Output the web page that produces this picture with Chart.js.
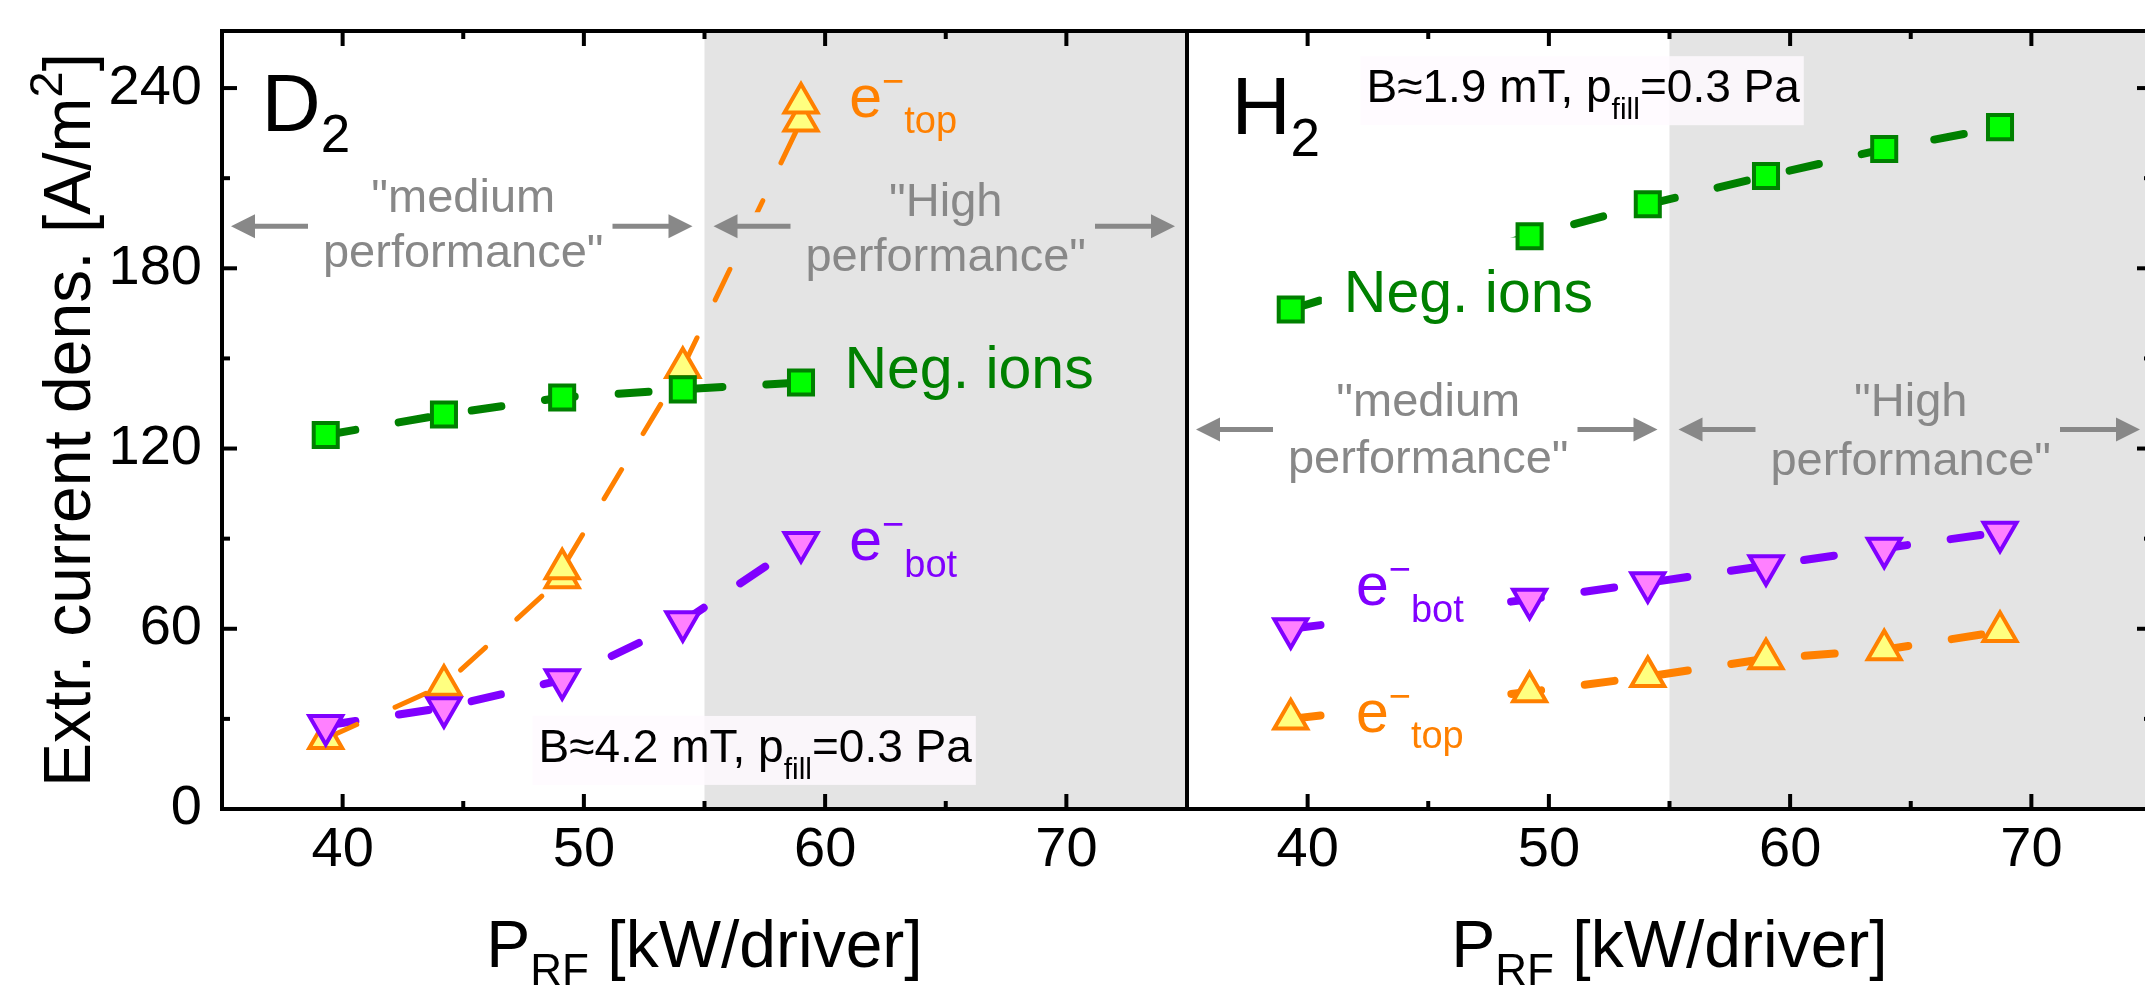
<!DOCTYPE html>
<html lang="en">
<head>
<meta charset="UTF-8">
<title>Extracted current density vs RF power</title>
<script src="https://cdn.jsdelivr.net/npm/chart.js"></script>
<style>
  html, body { margin: 0; padding: 0; background: #fff; overflow: hidden; }
  #wrap { position: relative; width: 2145px; height: 989px; overflow: hidden; }
  #d2Chart { position: absolute; left: 0; top: 0; }
  #h2Chart { position: absolute; left: 1183px; top: 0; }
</style>
</head>
<body>
<div id="wrap">
  <canvas id="d2Chart" width="1192" height="989"></canvas>
  <canvas id="h2Chart" width="980" height="989"></canvas>
</div>
<script>
// ---- axes ----
const xTickValues = [40, 50, 60, 70];
const xMinorTicks = [45, 55, 65];
const yTickValues = [0, 60, 120, 180, 240];
const yMinorTicks = [30, 90, 150, 210];

// ---- D2 panel (left) ----
const d2Power = [39.3, 44.2, 49.1, 54.1, 59.0];
const d2NegIons = [124.5, 131.3, 137.0, 139.7, 142.0];
const d2EBot = [27.8, 33.7, 43.0, 62.3, 88.7];
const d2ETopPower = [39.3, 44.2, 49.1, 49.1, 54.1, 59.0, 59.0];
const d2ETop = [23.5, 41.2, 77.0, 80.0, 147.0, 229.0, 235.0];

// ---- H2 panel (right) ----
const h2Power = [39.3, 49.2, 54.1, 59.0, 63.9, 68.7];
const h2NegIons = [166.3, 190.7, 201.3, 210.7, 219.7, 227.0];
const h2EBot = [60.0, 69.8, 75.3, 81.0, 86.8, 92.1];
const h2ETop = [30.0, 39.0, 44.1, 50.0, 53.0, 59.1];

const FONT = "'Liberation Sans', Arial, Helvetica, sans-serif";
const GREEN = '#008000', GREEN_FILL = '#00ff00';
const ORANGE = '#ff8000', ORANGE_FILL = '#ffff80';
const PURPLE = '#8000ff', PURPLE_FILL = '#ff80ff';
const GREY = '#888888';
const SHADE = '#e4e4e4';

Chart.defaults.font.family = FONT;
Chart.defaults.color = '#000';
Chart.defaults.animation = false;

// text pieces with sub/superscripts
function richWidth(ctx, parts) {
    let w = 0;
    for (const p of parts) {
        ctx.font = p.size + 'px ' + FONT;
        w += ctx.measureText(p.t).width;
    }
    return w;
}
function drawRich(ctx, x, y, parts, color, center) {
    const w = richWidth(ctx, parts);
    let cx = center ? x - w / 2 : x;
    ctx.fillStyle = color;
    ctx.textAlign = 'left';
    ctx.textBaseline = 'alphabetic';
    for (const p of parts) {
        ctx.font = p.size + 'px ' + FONT;
        ctx.fillText(p.t, cx, y + (p.dy || 0));
        cx += ctx.measureText(p.t).width;
    }
    return w;
}
function arrow(ctx, tipX, tailX, y) {
    const dir = tipX < tailX ? 1 : -1;
    ctx.strokeStyle = GREY;
    ctx.fillStyle = GREY;
    ctx.lineWidth = 5;
    ctx.beginPath();
    ctx.moveTo(tailX, y);
    ctx.lineTo(tipX + dir * 20, y);
    ctx.stroke();
    ctx.beginPath();
    ctx.moveTo(tipX, y);
    ctx.lineTo(tipX + dir * 24, y - 12);
    ctx.lineTo(tipX + dir * 24, y + 12);
    ctx.closePath();
    ctx.fill();
}

const eParts = (sub, sz) => [
    { t: 'e', size: 59 },
    { t: '\u2212', size: 38, dy: -23 },
    { t: sub, size: 38, dy: sz }
];

const panelDecor = {
    id: 'panelDecor',
    beforeDraw(chart) { chart.$labelsDone = false; },
    beforeDatasetsDraw(chart, args, o) {
        const { ctx, chartArea: a, scales: { x, y } } = chart;
        ctx.save();
        // "High performance" region
        const xs = x.getPixelForValue(o.shadeFrom);
        ctx.fillStyle = SHADE;
        ctx.fillRect(xs, a.top, a.right - xs, a.bottom - a.top);
        // operating conditions
        const c = o.cond;
        const cx = x.getPixelForValue(c.x), cy = y.getPixelForValue(c.y);
        const w = richWidth(ctx, c.parts);
        ctx.fillStyle = 'rgba(255,250,255,0.8)';
        ctx.fillRect(cx - 6, cy - 46, w + 10, 69);
        drawRich(ctx, cx, cy, c.parts, '#000');
        // gas name
        drawRich(ctx, x.getPixelForValue(o.name.x), y.getPixelForValue(o.name.y), o.name.parts, '#000');
        ctx.restore();
    },
    beforeDatasetDraw(chart, args, o) {
        if (chart.$labelsDone || chart.data.datasets[args.index].kind !== 'marker') return;
        chart.$labelsDone = true;
        const { ctx, scales: { x, y } } = chart;
        ctx.save();
        o.zones.forEach(z => {
            const x0 = x.getPixelForValue(z.from), x1 = x.getPixelForValue(z.to);
            const mid = (x0 + x1) / 2;
            const ay = y.getPixelForValue(z.arrowY);
            const b1 = y.getPixelForValue(z.line1Y), b2 = y.getPixelForValue(z.line2Y);
            ctx.fillStyle = z.bg;
            ctx.fillRect(x0 + 6, ay - 14, x1 - x0 - 12, b2 - 5 - (ay - 14));
            ctx.fillStyle = GREY;
            ctx.font = '47px ' + FONT;
            ctx.textAlign = 'center';
            ctx.textBaseline = 'alphabetic';
            ctx.fillText(z.lines[0], mid, b1);
            ctx.fillText(z.lines[1], mid, b2);
            arrow(ctx, x0 + 9, x0 + 86, ay);
            arrow(ctx, x1 - 12, x1 - 92, ay);
        });
        o.labels.forEach(l => {
            const lx = x.getPixelForValue(l.x), ly = y.getPixelForValue(l.y);
            if (l.box) {
                const w = richWidth(ctx, l.parts);
                ctx.fillStyle = '#fff';
                ctx.fillRect(lx - l.box.l, ly - l.box.t, w + l.box.l + l.box.r, l.box.t + l.box.b);
            }
            drawRich(ctx, lx, ly, l.parts, l.color);
        });
        ctx.restore();
    },
    afterDraw(chart, args, o) {
        const { ctx, chartArea: a, scales: { x, y } } = chart;
        ctx.save();
        // axis titles
        drawRich(ctx, (a.left + a.right) / 2, a.bottom + 158, [
            { t: 'P', size: 66 },
            { t: 'RF', size: 44, dy: 18 },
            { t: ' [kW/driver]', size: 66 }
        ], '#000', true);
        if (o.yTitle) {
            ctx.translate(90, (a.top + a.bottom) / 2);
            ctx.rotate(-Math.PI / 2);
            drawRich(ctx, 0, 0, [
                { t: 'Extr. current dens. [A/m', size: 66 },
                { t: '2', size: 47, dy: -28 },
                { t: ']', size: 66 }
            ], '#000', true);
            ctx.setTransform(1, 0, 0, 1, 0, 0);
        }
        // frame with inward ticks
        ctx.strokeStyle = '#000';
        ctx.lineWidth = 4;
        const tick = (x1, y1, x2, y2) => { ctx.beginPath(); ctx.moveTo(x1, y1); ctx.lineTo(x2, y2); ctx.stroke(); };
        const xt = xTickValues.map(v => [v, 15]).concat(xMinorTicks.map(v => [v, 8]));
        xt.forEach(([v, len]) => {
            const px = x.getPixelForValue(v);
            tick(px, a.bottom, px, a.bottom - len);
            tick(px, a.top, px, a.top + len);
        });
        const yt = yTickValues.map(v => [v, 15]).concat(yMinorTicks.map(v => [v, 8]));
        yt.forEach(([v, len]) => {
            const py = y.getPixelForValue(v);
            if (o.yTickSide === 'left') tick(a.left, py, a.left + len, py);
            else tick(a.right, py, a.right - len, py);
        });
        ctx.strokeRect(a.left, a.top, a.right - a.left, a.bottom - a.top);
        ctx.restore();
    }
};

function series(xs, ys, color, fill, style, rotation, width, dash, order) {
    const pts = xs.map((v, i) => ({ x: v, y: ys[i] }));
    return [{
        kind: 'line', data: pts, showLine: true,
        borderColor: color, borderWidth: width, borderDash: dash, borderCapStyle: 'round',
        pointRadius: 0, order: 10
    }, {
        kind: 'marker', data: pts, showLine: false,
        pointStyle: style, pointRotation: rotation,
        pointRadius: style === 'rect' ? 17 : 19,
        pointBackgroundColor: fill, pointBorderColor: color, pointBorderWidth: 4,
        order: order
    }];
}

// keep the plot area exactly where the layout padding puts it
function noPad(s) {
    s.paddingLeft = 0; s.paddingRight = 0; s.paddingTop = 0; s.paddingBottom = 0;
}

function makeScales(withLabels) {
    return {
        x: {
            type: 'linear', min: 35, max: 75,
            grid: { display: false, drawTicks: false },
            border: { display: false },
            afterBuildTicks: s => { s.ticks = xTickValues.map(v => ({ value: v })); },
            ticks: { font: { size: 56 }, color: '#000', padding: 8, maxRotation: 0, autoSkip: false },
            afterFit: s => { s.height = 180; noPad(s); }
        },
        y: {
            type: 'linear', min: 0, max: 259,
            grid: { display: false, drawTicks: false },
            border: { display: false },
            afterBuildTicks: s => { s.ticks = yTickValues.map(v => ({ value: v })); },
            ticks: { display: withLabels, font: { size: 56 }, color: '#000', padding: 20 },
            afterFit: s => { s.width = withLabels ? 222 : 0; noPad(s); }
        }
    };
}

const condParts = b => [
    { t: 'B\u2248' + b + ' mT, p', size: 46 },
    { t: 'fill', size: 30, dy: 17 },
    { t: '=0.3 Pa', size: 46 }
];

const d2Chart = new Chart(document.getElementById('d2Chart'), {
    type: 'scatter',
    data: {
        datasets: [
            ...series(d2Power, d2NegIons, GREEN, GREEN_FILL, 'rect', 0, 8, [30, 44], 2),
            ...series(d2ETopPower, d2ETop, ORANGE, ORANGE_FILL, 'triangle', 0, 5, [34, 42], 3),
            ...series(d2Power, d2EBot, PURPLE, PURPLE_FILL, 'triangle', 180, 8, [30, 44], 1)
        ]
    },
    options: {
        responsive: false,
        events: [],
        layout: { autoPadding: false, padding: { left: 0, top: 31, right: 5, bottom: 0 } },
        scales: makeScales(true),
        plugins: {
            legend: { display: false },
            tooltip: { enabled: false },
            panelDecor: {
                shadeFrom: 55,
                yTickSide: 'left',
                yTitle: true,
                name: { x: 36.64, y: 225.7, parts: [{ t: 'D', size: 82 }, { t: '2', size: 53, dy: 21 }] },
                cond: { x: 48.12, y: 15.67, parts: condParts('4.2') },
                zones: [
                    { from: 35, to: 55, lines: ['"medium', 'performance"'], line1Y: 198.7, line2Y: 180.3, arrowY: 194, bg: '#fff' },
                    { from: 55, to: 75, lines: ['"High', 'performance"'], line1Y: 197.3, line2Y: 179, arrowY: 194, bg: SHADE }
                ],
                labels: [
                    { x: 60.8, y: 140.3, parts: [{ t: 'Neg. ions', size: 59 }], color: GREEN },
                    { x: 61.0, y: 230.3, parts: eParts('top', 16), color: ORANGE },
                    { x: 61.0, y: 83.0, parts: eParts('bot', 17), color: PURPLE }
                ]
            }
        }
    },
    plugins: [panelDecor]
});

const h2Chart = new Chart(document.getElementById('h2Chart'), {
    type: 'scatter',
    data: {
        datasets: [
            ...series(h2Power, h2NegIons, GREEN, GREEN_FILL, 'rect', 0, 8, [30, 44], 2),
            ...series(h2Power, h2ETop, ORANGE, ORANGE_FILL, 'triangle', 0, 8, [30, 44], 3),
            ...series(h2Power, h2EBot, PURPLE, PURPLE_FILL, 'triangle', 180, 8, [30, 44], 1)
        ]
    },
    options: {
        responsive: false,
        events: [],
        layout: { autoPadding: false, padding: { left: 4, top: 31, right: 11, bottom: 0 } },
        scales: makeScales(false),
        plugins: {
            legend: { display: false },
            tooltip: { enabled: false },
            panelDecor: {
                shadeFrom: 55,
                yTickSide: 'right',
                yTitle: false,
                name: { x: 36.84, y: 224.7, parts: [{ t: 'H', size: 82 }, { t: '2', size: 53, dy: 22 }] },
                cond: { x: 42.44, y: 235.3, parts: condParts('1.9') },
                zones: [
                    { from: 35, to: 55, lines: ['"medium', 'performance"'], line1Y: 130.7, line2Y: 112, arrowY: 126.3, bg: '#fff' },
                    { from: 55, to: 75, lines: ['"High', 'performance"'], line1Y: 130.7, line2Y: 111.3, arrowY: 126.3, bg: SHADE }
                ],
                labels: [
                    { x: 41.5, y: 165.3, parts: [{ t: 'Neg. ions', size: 59 }], color: GREEN, box: { l: 22, r: 24, t: 75, b: 24 } },
                    { x: 42.0, y: 68.0, parts: eParts('bot', 17), color: PURPLE, box: { l: 12, r: 10, t: 50, b: 28 } },
                    { x: 42.0, y: 25.7, parts: eParts('top', 16), color: ORANGE, box: { l: 30, r: 20, t: 50, b: 30 } }
                ]
            }
        }
    },
    plugins: [panelDecor]
});
</script>
</body>
</html>
